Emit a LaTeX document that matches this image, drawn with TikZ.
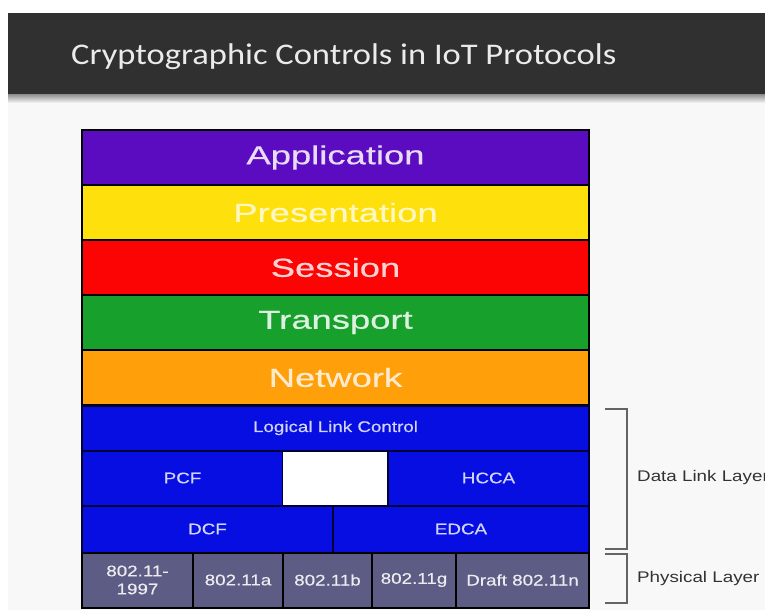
\documentclass[tikz,border=0pt]{standalone}
\usepackage{fontspec}
\setmainfont{Liberation Sans}
\newfontfamily\titlefont[FakeStretch=1.15]{Carlito}
\newfontfamily\bigsans[FakeStretch=1.4, FakeBold=0.6]{Liberation Sans}
\newfontfamily\smallsans[FakeStretch=1.22, FakeBold=0.5]{Liberation Sans}
\newfontfamily\sidesans[FakeStretch=1.22]{Liberation Sans}

% palette
\definecolor{banner}{RGB}{48,48,48}
\definecolor{slidebg}{RGB}{248,248,248}
\definecolor{appviolet}{RGB}{92,12,192}
\definecolor{presyellow}{RGB}{253,224,12}
\definecolor{sessred}{RGB}{252,4,4}
\definecolor{transgreen}{RGB}{24,160,44}
\definecolor{netorange}{RGB}{255,160,10}
\definecolor{linkblue}{RGB}{6,14,226}
\definecolor{phygray}{RGB}{92,92,132}
\definecolor{brackgray}{RGB}{100,100,100}
\definecolor{labelgray}{RGB}{50,50,50}

\tikzset{
  cell/.style={draw=black, line width=2pt, inner sep=0pt, outer sep=0pt},
  upper/.style={cell, minimum width=507pt, minimum height=55pt,
    font=\bigsans\fontsize{26}{28}\selectfont},
  lower/.style={cell, minimum height=#1, draw=black!80!blue,
    font=\smallsans\fontsize{15.4}{18}\selectfont, text=white!82!linkblue, fill=linkblue},
  phy/.style={cell, minimum height=55pt, fill=phygray, text=white!88!phygray,
    font=\smallsans\fontsize{15.4}{18}\selectfont, align=center},
  brack/.style={draw=brackgray, line width=1.5pt},
  sidelabel/.style={anchor=west, inner sep=0pt, text=labelgray,
    font=\sidesans\fontsize{15.4}{18}\selectfont}
}

\begin{document}
\begin{tikzpicture}[x=1pt,y=-1pt]
\useasboundingbox (0,0) rectangle (765,610);
% slide background and title bar
\fill[white] (0,0) rectangle (765,610);
\fill[slidebg] (8,13) rectangle (765,610);
\shade[top color=black!45, bottom color=slidebg] (8,94) rectangle (765,103);
\fill[banner] (8,13) rectangle (765,94);
\node[anchor=base west, inner sep=0pt, text=white!92!black,
  font=\titlefont\fontsize{30}{34}\selectfont] (title) at (71,64)
  {Cryptographic Controls in IoT Protocols};

% upper OSI layers
\node[upper, fill=appviolet,  text=white!85!appviolet]  (app)  at (335.5,157.5) {Application};
\node[upper, fill=presyellow, text=white!75!presyellow] (pres) at (335.5,212.5) {Presentation};
\node[upper, fill=sessred,    text=white!82!sessred]    (sess) at (335.5,267.5) {Session};
\node[upper, fill=transgreen, text=white!85!transgreen] (trans) at (335.5,322.5) {Transport};
\node[upper, fill=netorange,  text=white!80!netorange]  (net)  at (335.5,377.5) {Network};

% data link sublayers
\node[lower=45pt, minimum width=507pt] (llc)  at (335.5,428) {Logical Link Control};
\node[lower=55pt, minimum width=201pt] (pcf)  at (182.5,478) {PCF};
\node[cell, draw=black!80!blue, line width=1pt, fill=white, minimum width=105pt, minimum height=54pt] (gap) at (335,478) {};
\node[lower=55pt, minimum width=201pt] (hcca) at (488.5,478) {HCCA};
\node[lower=47pt, minimum width=251pt] (dcf)  at (207.5,529) {DCF};
\node[lower=47pt, minimum width=256pt] (edca) at (461,529) {EDCA};

% physical layer variants
\node[phy, minimum width=111pt] (p97)  at (137.5,580) {802.11-\\1997};
\node[phy, minimum width=90pt]  (pa)   at (238,580)   {802.11a};
\node[phy, minimum width=89pt]  (pb)   at (327.5,580) {802.11b};
\node[phy, minimum width=84pt]  (pg)   at (414,580)   {802.11g};
\node[phy, minimum width=133pt] (pn)   at (522.5,580) {Draft 802.11n};

% side brackets
\coordinate (dlT) at (605,409);
\coordinate (dlB) at (605,549);
\coordinate (phT) at (605,554);
\coordinate (phB) at (605,603);
\draw[brack] (dlT) -- ++(22,0) |- (dlB);
\draw[brack] (phT) -- ++(22,0) |- (phB);
\node[sidelabel] (dll) at (637,478) {Data Link Layer};
\node[sidelabel] (phl) at (637,579) {Physical Layer};
\end{tikzpicture}
\end{document}
